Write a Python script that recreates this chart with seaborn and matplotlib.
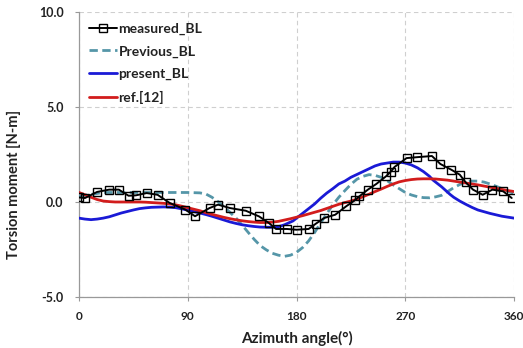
import matplotlib
matplotlib.use("Agg")
import matplotlib.pyplot as plt
import seaborn as sns
import pandas as pd

sns.set_theme(style="white")
plt.rcParams['font.family'] = ['Lato', 'DejaVu Sans']

# measured_BL
meas_ang = [0, 5, 15, 25, 33, 41, 47, 56, 65, 75, 88, 96, 108, 115, 125, 138, 149, 157,
            163, 172, 180, 190, 196, 203, 212, 221, 228, 232, 239, 246, 254, 258, 261,
            271, 280, 292, 299, 308, 315, 320, 326, 334, 342, 351, 358]
meas_val = [0.24, 0.21, 0.53, 0.65, 0.65, 0.33, 0.35, 0.47, 0.38, -0.05, -0.4, -0.75,
            -0.32, -0.14, -0.32, -0.46, -0.76, -1.1, -1.42, -1.42, -1.46, -1.42, -1.14,
            -0.84, -0.67, -0.23, 0.08, 0.3, 0.65, 0.95, 1.35, 1.6, 1.84, 2.31, 2.36, 2.42,
            2.0, 1.7, 1.44, 1.03, 0.65, 0.38, 0.65, 0.56, 0.21]

# Previous_BL
prev_ang = [0, 10, 20, 40, 60, 80, 90, 100, 105, 110, 115, 120, 125, 130, 135, 140, 145,
            150, 155, 160, 165, 170, 175, 180, 185, 190, 195, 200, 205, 210, 215, 220,
            225, 230, 235, 240, 245, 250, 255, 260, 265, 270, 275, 280, 285, 290, 295,
            300, 305, 310, 315, 320, 325, 330, 335, 340, 345, 350, 355, 360]
prev_val = [0.3, 0.4, 0.5, 0.5, 0.5, 0.5, 0.5, 0.48, 0.42, 0.25, 0.02, -0.25, -0.55,
            -0.85, -1.22, -1.6, -1.97, -2.3, -2.52, -2.7, -2.8, -2.86, -2.8, -2.65, -2.4,
            -2.05, -1.6, -1.1, -0.62, -0.15, 0.25, 0.6, 0.93, 1.2, 1.35, 1.44, 1.4, 1.3,
            1.12, 0.9, 0.7, 0.5, 0.37, 0.28, 0.23, 0.22, 0.27, 0.35, 0.55, 0.75, 0.92,
            1.05, 1.1, 1.1, 1.05, 0.95, 0.83, 0.7, 0.57, 0.45]

# present_BL
pres_ang = [0, 5, 10, 15, 20, 25, 30, 35, 40, 45, 50, 55, 60, 65, 70, 75, 80, 85, 90, 95,
            100, 105, 110, 115, 120, 125, 130, 135, 140, 145, 150, 155, 160, 165, 170,
            177, 180, 185, 190, 195, 200, 205, 210, 215, 220, 225, 230, 235, 240, 245,
            250, 255, 260, 265, 270, 275, 280, 285, 290, 293, 300, 307, 310, 315, 320,
            325, 330, 340, 350, 360]
pres_val = [-0.85, -0.9, -0.93, -0.9, -0.85, -0.78, -0.68, -0.58, -0.5, -0.42, -0.35,
            -0.31, -0.28, -0.27, -0.26, -0.27, -0.3, -0.36, -0.43, -0.5, -0.58, -0.66,
            -0.75, -0.85, -0.95, -1.05, -1.13, -1.2, -1.25, -1.29, -1.32, -1.33, -1.33,
            -1.3, -1.2, -1.0, -0.85, -0.6, -0.35, -0.1, 0.2, 0.47, 0.7, 0.95, 1.1, 1.3,
            1.45, 1.6, 1.75, 1.9, 2.0, 2.05, 2.1, 2.1, 2.05, 1.95, 1.8, 1.6, 1.35, 1.15,
            0.8, 0.4, 0.25, 0.05, -0.12, -0.28, -0.42, -0.6, -0.75, -0.85]

# ref.[12]
ref_ang = [0, 5, 10, 15, 20, 25, 30, 35, 40, 45, 50, 55, 60, 65, 70, 75, 80, 85, 90, 95,
           100, 105, 110, 115, 120, 125, 130, 135, 140, 145, 150, 155, 160, 165, 170,
           175, 180, 185, 190, 195, 200, 205, 210, 215, 220, 225, 230, 235, 240, 245,
           250, 255, 260, 265, 270, 275, 280, 285, 290, 295, 300, 305, 310, 315, 320,
           325, 330, 335, 340, 345, 350, 355, 360]
ref_val = [0.5, 0.38, 0.25, 0.13, 0.05, 0.02, 0.0, 0.0, 0.0, 0.0, 0.0, -0.01, -0.03,
           -0.05, -0.07, -0.1, -0.15, -0.22, -0.3, -0.38, -0.46, -0.56, -0.65, -0.73,
           -0.81, -0.88, -0.94, -0.99, -1.03, -1.06, -1.08, -1.08, -1.06, -1.02, -0.95,
           -0.88, -0.8, -0.72, -0.63, -0.54, -0.45, -0.34, -0.23, -0.12, -0.03, 0.05,
           0.15, 0.28, 0.41, 0.55, 0.68, 0.82, 0.95, 1.06, 1.13, 1.18, 1.21, 1.22, 1.22,
           1.21, 1.18, 1.15, 1.1, 1.05, 1.0, 0.95, 0.9, 0.84, 0.78, 0.72, 0.66, 0.6, 0.55]

x_ticks = [0, 90, 180, 270, 360]
y_ticks = [-5.0, 0.0, 5.0, 10.0]

fig = plt.figure(figsize=(5.23, 3.48), dpi=100)
ax = fig.add_axes([0.151, 0.1466, 0.832, 0.8189])

sns.lineplot(x=meas_ang, y=meas_val, ax=ax, color="black", lw=1.4, marker="s",
             markersize=6, markerfacecolor="none", markeredgecolor="black",
             markeredgewidth=1.0, label="measured_BL", zorder=5)
sns.lineplot(x=prev_ang, y=prev_val, ax=ax, color="#5596a8", lw=2.0,
             linestyle=(0, (3, 1.6)), label="Previous_BL", zorder=3)
sns.lineplot(x=pres_ang, y=pres_val, ax=ax, color="#1a1ad6", lw=2.0,
             label="present_BL", zorder=3)
sns.lineplot(x=ref_ang, y=ref_val, ax=ax, color="#d21c1c", lw=2.0,
             label="ref.[12]", zorder=4)

ax.set_xlim(0, 360)
ax.set_ylim(-5, 10)
ax.set_xticks(x_ticks)
ax.set_yticks(y_ticks)
ax.set_xticklabels([str(t) for t in x_ticks], fontsize=8.5, fontweight="bold", color="#222222")
ax.set_yticklabels([f"{t:.1f}" for t in y_ticks], fontsize=9, fontweight="bold", color="#222222")
ax.tick_params(axis="both", length=3, width=0.8, color="#999999", direction="out",
               bottom=True, left=True)
ax.tick_params(axis="x", pad=7)
ax.tick_params(axis="y", pad=8)
ax.grid(True, color="#cfcfcf", linestyle=(0, (4, 3)), linewidth=0.8)
for s in ["top", "right"]:
    ax.spines[s].set_visible(False)
for s in ["left", "bottom"]:
    ax.spines[s].set_color("#999999")
    ax.spines[s].set_linewidth(0.9)

ax.set_xlabel("Azimuth angle(°)", fontsize=11, fontweight="bold", color="#222222")
ax.set_ylabel("Torsion moment [N-m]", fontsize=10.5, fontweight="bold", color="#222222")
ax.xaxis.set_label_coords(0.50, -0.12)
ax.yaxis.set_label_coords(-0.133, 0.395)

leg = ax.legend(loc="upper left", frameon=False, fontsize=10, handlelength=2.0,
                handletextpad=0.1, labelspacing=0.77, borderaxespad=0.35,
                bbox_to_anchor=(0.0, 1.0))
for t in leg.get_texts():
    t.set_fontweight("bold")
    t.set_color("#222222")

fig.savefig("out.png", dpi=100)
